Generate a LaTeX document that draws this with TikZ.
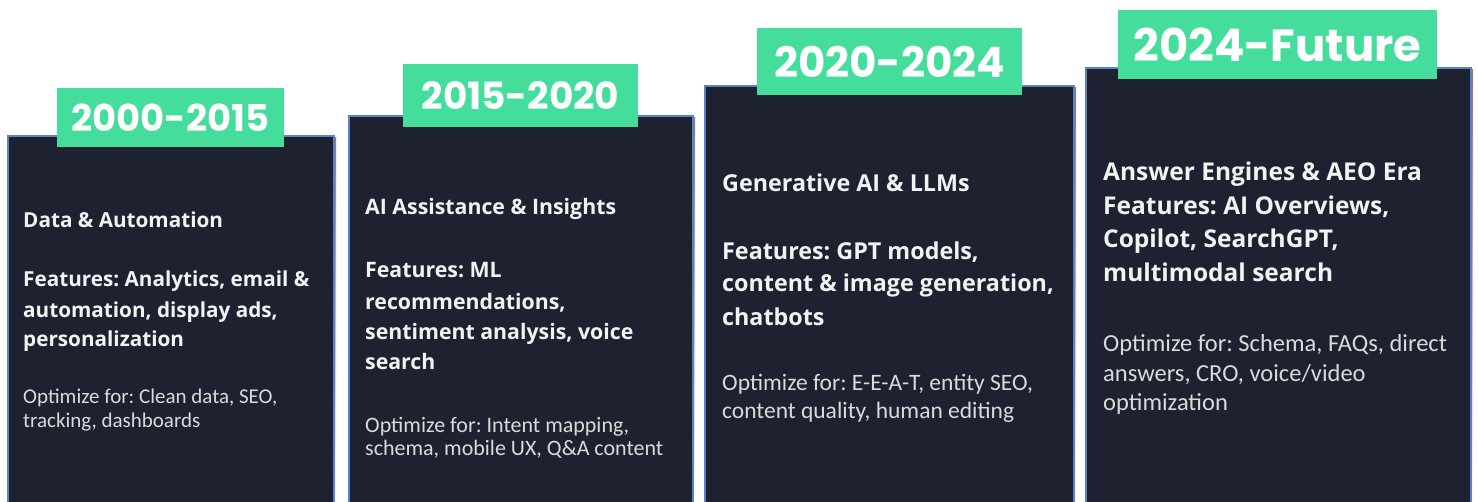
\documentclass[tikz,border=0pt]{standalone}
\usepackage{fontspec}
\setmainfont{Open Sans}
\newfontfamily\optfont{Carlito}
\newfontfamily\yearfont{Poppins}
\frenchspacing
\definecolor{panelfill}{HTML}{1E2230}
\definecolor{paneledge}{HTML}{5A82C4}
\definecolor{tagfill}{HTML}{44DD9B}
\definecolor{ink}{HTML}{F2F2F2}
\definecolor{inksoft}{HTML}{DADADA}
\definecolor{shade}{HTML}{D4D7DC}
\tikzset{
  panel/.style={draw=paneledge, line width=1.6pt, fill=panelfill, inner sep=0,
    anchor=north west, minimum width=#1, minimum height=460},
  tag/.style={fill=tagfill, inner sep=0, text=white, minimum width=#1,
    font=\yearfont\bfseries},
  ttl/.style={anchor=base west, inner sep=0, text=ink,
    font=\bfseries\fontsize{#1}{#1}\selectfont},
  opt/.style={anchor=base west, inner sep=0, text=inksoft,
    font=\optfont\fontsize{#1}{#1}\selectfont},
}
\begin{document}
\begin{tikzpicture}[x=1pt,y=-1pt]
\useasboundingbox[fill=white] (0,0) rectangle (1478,502);

% soft shadows behind the panels
\fill[shade] (10,138) rectangle (336,510);
\fill[shade] (351,118) rectangle (695,510);
\fill[shade] (707,88) rectangle (1076,510);
\fill[shade] (1088,70) rectangle (1473,510);

% era panels
\node[panel=326] (p1) at (7,135) {};
\node[panel=344] (p2) at (348,115) {};
\node[panel=369] (p3) at (704,85) {};
\node[panel=385] (p4) at (1085,67) {};

% year tags
\node[tag=227, minimum height=59, font=\yearfont\bfseries\fontsize{37}{37}\selectfont]
  (y1) at (170.5,117.5) {2000-2015};
\node[tag=235, minimum height=63, font=\yearfont\bfseries\fontsize{37.5}{37.5}\selectfont]
  (y2) at (520.5,95.5) {2015-2020};
\node[tag=265, minimum height=67, font=\yearfont\bfseries\fontsize{42}{42}\selectfont]
  (y3) at (889.5,61.5) {2020-2024};
\node[tag=319, minimum height=69, font=\yearfont\bfseries\fontsize{45}{45}\selectfont]
  (y4) at (1277.5,44.5) {2024-Future};

% 2000-2015
\node[ttl=20.7] (a0) at (23,228) {Data \& Automation};
\node[ttl=20.7] (a1) at (23,287) {Features: Analytics, email \&};
\node[ttl=20.7] (a2) at (23,318) {automation, display ads,};
\node[ttl=20.7] (a3) at (23,347) {personalization};
\node[opt=21] (a4) at (23,404) {Optimize for: Clean data, SEO,};
\node[opt=21] (a5) at (23,428) {tracking, dashboards};

% 2015-2020
\node[ttl=21.3] (b0) at (365,215) {AI Assistance \& Insights};
\node[ttl=21.3] (b1) at (365,278) {Features: ML};
\node[ttl=21.3] (b2) at (365,310) {recommendations,};
\node[ttl=21.3] (b3) at (365,340) {sentiment analysis, voice};
\node[ttl=21.3] (b4) at (365,370) {search};
\node[opt=22] (b5) at (365,432) {Optimize for: Intent mapping,};
\node[opt=22] (b6) at (365,455) {schema, mobile UX, Q\&A content};

% 2020-2024
\node[ttl=23.3] (c0) at (722,192) {Generative AI \& LLMs};
\node[ttl=23.3] (c1) at (722,260) {Features: GPT models,};
\node[ttl=23.3] (c2) at (722,292) {content \& image generation,};
\node[ttl=23.3] (c3) at (722,326) {chatbots};
\node[opt=23.5] (c4) at (722,391) {Optimize for: E-E-A-T, entity SEO,};
\node[opt=23.5] (c5) at (722,418) {content quality, human editing};

% 2024-Future
\node[ttl=24.5] (d0) at (1103,181) {Answer Engines \& AEO Era};
\node[ttl=24.5] (d1) at (1103,215) {Features: AI Overviews,};
\node[ttl=24.5] (d2) at (1103,248) {Copilot, SearchGPT,};
\node[ttl=24.5] (d3) at (1103,282) {multimodal search};
\node[opt=24.5] (d4) at (1103,352) {Optimize for: Schema, FAQs, direct};
\node[opt=24.5] (d5) at (1103,382) {answers, CRO, voice/video};
\node[opt=24.5] (d6) at (1103,410) {optimization};
\end{tikzpicture}
\end{document}
